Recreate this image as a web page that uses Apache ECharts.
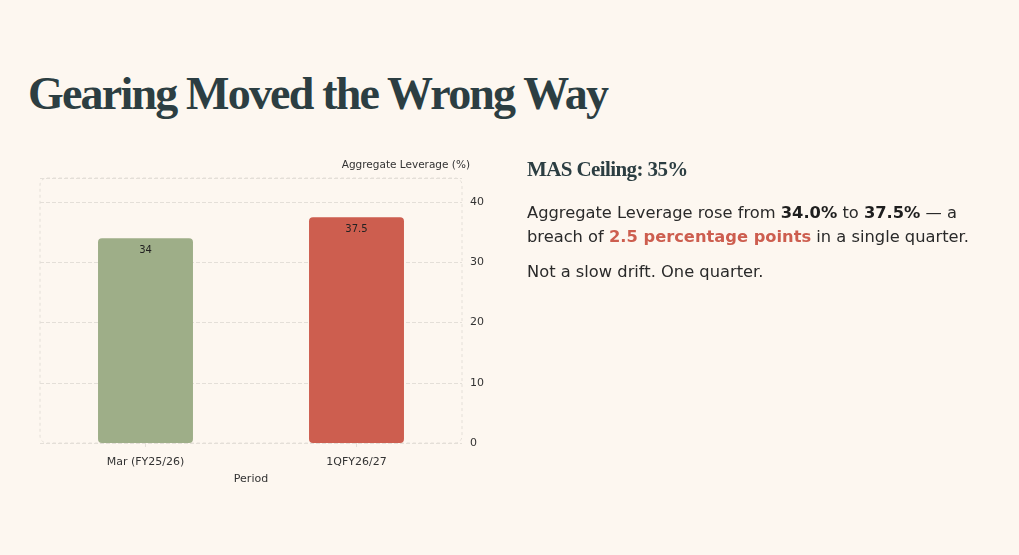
<!DOCTYPE html>
<html>
<head>
<meta charset="utf-8">
<script src="https://cdn.jsdelivr.net/npm/echarts@6/dist/echarts.min.js"></script>
<style>
  html, body { margin: 0; padding: 0; background: #fdf7f0; }
  body { width: 1019px; height: 555px; position: relative; overflow: hidden; }
  #main { position: absolute; left: 0; top: 0; width: 1019px; height: 555px; }
  h1 {
    position: absolute; left: 28px; top: 67px; margin: 0;
    font-family: "Liberation Serif", serif; font-weight: bold;
    font-size: 46px; letter-spacing: -1.8px; color: #2c3e42;
  }
  .side { position: absolute; left: 527px; top: 157px; width: 470px;
    font-family: "DejaVu Sans", sans-serif; color: #2a2a2a; font-size: 16.3px; line-height: 24px; }
  .side h2 { margin: 0 0 20px 0; font-family: "Liberation Serif", serif; font-weight: bold;
    font-size: 21px; letter-spacing: -0.6px; color: #2c3e42; }
  .side p { margin: 0 0 11px 0; }
  .side b { color: #1e1e1e; }
  .side .hot { color: #cd5e4f; font-weight: bold; }
</style>
</head>
<body>
<h1>Gearing Moved the Wrong Way</h1>
<div id="main"></div>
<div class="side">
  <h2>MAS Ceiling: 35%</h2>
  <p>Aggregate Leverage rose from <b>34.0%</b> to <b>37.5%</b> — a breach of <span class="hot">2.5 percentage points</span> in a single quarter.</p>
  <p>Not a slow drift. One quarter.</p>
</div>
<script>
// data
var periods = ['Mar (FY25/26)', '1QFY26/27'];
var leverage = [34, 37.5];
var barColors = ['#9eae88', '#cd5e4f'];

var gridBox = { left: 40, top: 178, width: 422, height: 265 };

var chart = echarts.init(document.getElementById('main'));

var option = {
  backgroundColor: 'transparent',
  textStyle: { fontFamily: 'DejaVu Sans' },
  grid: { left: gridBox.left, top: gridBox.top, width: gridBox.width, height: gridBox.height },
  // rounded dashed frame around the plot
  graphic: [{
    type: 'rect',
    silent: true,
    z: 0,
    shape: { x: gridBox.left, y: gridBox.top, width: gridBox.width, height: gridBox.height, r: 7 },
    style: { fill: 'none', stroke: '#e4dfd8', lineWidth: 1, lineDash: [3, 3] }
  }],
  xAxis: {
    type: 'category',
    data: periods,
    name: 'Period',
    nameLocation: 'middle',
    nameGap: 31,
    nameTextStyle: { color: '#333', fontSize: 11 },
    axisLine: { show: false },
    axisTick: { show: true, alignWithLabel: true, length: 6, lineStyle: { color: '#e4dfd8', type: 'dashed' } },
    axisLabel: { color: '#333', fontSize: 11, margin: 14 },
    splitLine: { show: false }
  },
  yAxis: {
    type: 'value',
    position: 'right',
    min: 0,
    max: 44,
    interval: 10,
    name: 'Aggregate Leverage (%)',
    nameGap: 7,
    nameTextStyle: { color: '#333', fontSize: 10.5, align: 'right', padding: [0, -8, 0, 0] },
    axisLine: { show: false },
    axisTick: { show: false },
    axisLabel: { color: '#333', fontSize: 11, margin: 8, showMaxLabel: false },
    splitLine: { lineStyle: { color: '#e4dfd8', type: 'dashed' } }
  },
  series: [{
    type: 'bar',
    barWidth: '45%',
    data: leverage.map(function (v, i) {
      return { value: v, itemStyle: { color: barColors[i] } };
    }),
    itemStyle: { borderRadius: 4 },
    label: {
      show: true,
      position: 'insideTop',
      distance: 7,
      color: '#222',
      fontSize: 10
    }
  }]
};

chart.setOption(option);
</script>
</body>
</html>
